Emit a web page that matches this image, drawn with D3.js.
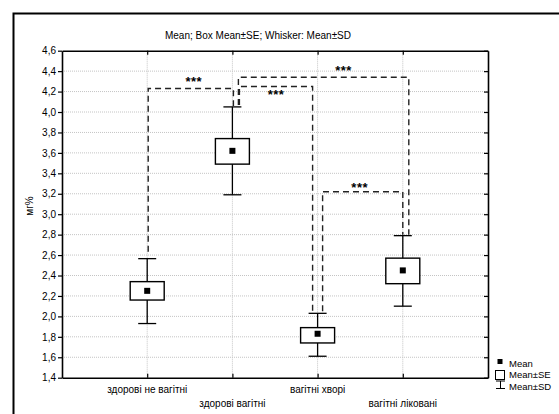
<!DOCTYPE html>
<html>
<head>
<meta charset="utf-8">
<script src="https://cdn.jsdelivr.net/npm/d3@7"></script>
<style>
  body { margin: 0; background: #fff; }
  svg text { font-family: "Liberation Sans", Arial, sans-serif; fill: #000; }
</style>
</head>
<body>
<svg id="chart" width="559" height="414"></svg>
<script>
// groups on the x axis
var groups = ["здорові не вагітні", "здорові вагітні", "вагітні хворі", "вагітні ліковані"]

// Mean, Mean±SE, Mean±SD
var means = [2.25, 3.62, 1.83, 2.45]
var seLow = [2.16, 3.49, 1.74, 2.32]
var seHigh = [2.34, 3.74, 1.89, 2.57]
var sdLow = [1.93, 3.19, 1.61, 2.10]
var sdHigh = [2.565, 4.05, 2.03, 2.79]

var yTicks = [1.4, 1.6, 1.8, 2.0, 2.2, 2.4, 2.6, 2.8, 3.0, 3.2, 3.4, 3.6, 3.8, 4.0, 4.2, 4.4, 4.6]

// significance brackets
var bracketFrom = [0, 1, 1, 2]
var bracketTo = [1, 3, 2, 3]
var bracketLevel = [4.23, 4.34, 4.25, 3.22]
var bracketText = ["***", "***", "***", "***"]

var titleText = "Mean; Box Mean±SE; Whisker: Mean±SD"
var yLabel = "мг%"
var legendText = ["Mean", "Mean±SE", "Mean±SD"]

// layout
var plotLeft = 62, plotRight = 488, plotTop = 50.7, plotBottom = 377.7
var boxHalf = 17, capHalf = 9, markHalf = 3
// x shifts of the bracket feet (left foot, right foot) and label shifts
var footShift = [[1, 1], [6, 6], [7, -5], [5, 0]]
var labelDx = [3, 20, 0, -3]
var labelDy = [-2.5, -2, 13, 0]

var svg = d3.select("#chart")

var x = d3.scalePoint()
  .domain(groups)
  .range([plotLeft, plotRight])
  .padding(1)

var y = d3.scaleLinear()
  .domain([1.4, 4.6])
  .range([plotBottom, plotTop])

var fmt = function(d) { return d3.format(".1f")(d).replace(".", ",") }

// outer frame
svg.append("rect")
  .attr("x", 13.5).attr("y", 13.5)
  .attr("width", 600).attr("height", 500)
  .attr("fill", "none").attr("stroke", "#000").attr("stroke-width", 2)

// title
svg.append("text")
  .attr("x", 258).attr("y", 39)
  .attr("text-anchor", "middle")
  .attr("font-size", "10px")
  .text(titleText)

// grid
var grid = svg.append("g")
grid.selectAll("line.h")
  .data(yTicks.slice(1, -1))
  .enter().append("line")
  .attr("x1", plotLeft).attr("x2", plotRight)
  .attr("y1", function(d) { return y(d) }).attr("y2", function(d) { return y(d) })
  .attr("stroke", "#c4c4c4").attr("stroke-dasharray", "1,1")
grid.selectAll("line.v")
  .data(groups)
  .enter().append("line")
  .attr("x1", function(d) { return x(d) }).attr("x2", function(d) { return x(d) })
  .attr("y1", plotTop).attr("y2", plotBottom)
  .attr("stroke", "#c4c4c4").attr("stroke-dasharray", "1,1")

// axes
var leftAxis = svg.append("g")
  .attr("transform", "translate(" + plotLeft + ",0)")
  .call(d3.axisLeft(y).tickValues(yTicks).tickFormat(fmt).tickSize(4).tickSizeOuter(0).tickPadding(2))
leftAxis.selectAll("text").attr("font-size", "10px").attr("font-family", "Liberation Sans, Arial, sans-serif")

var rightAxis = svg.append("g")
  .attr("transform", "translate(" + plotRight + ",0)")
  .call(d3.axisRight(y).tickValues(yTicks).tickSize(-4).tickSizeOuter(0).tickFormat(""))

var topAxis = svg.append("g")
  .attr("transform", "translate(0," + plotTop + ")")
  .call(d3.axisTop(x).tickSize(-4).tickSizeOuter(0).tickFormat(""))

var bottomAxis = svg.append("g")
  .attr("transform", "translate(0," + plotBottom + ")")
  .call(d3.axisBottom(x).tickSize(-4).tickSizeOuter(0).tickFormat(""))

svg.selectAll(".domain").attr("stroke", "#000").attr("stroke-width", 1.6)
svg.selectAll(".tick line").attr("stroke", "#000").attr("stroke-width", 1.2)

// staggered category labels
svg.append("g").selectAll("text")
  .data(groups)
  .enter().append("text")
  .attr("x", function(d) { return x(d) })
  .attr("y", function(d, i) { return i % 2 == 0 ? 393 : 406.5 })
  .attr("text-anchor", "middle")
  .attr("font-size", "10px")
  .text(function(d) { return d })

// y label
svg.append("text")
  .attr("transform", "translate(33,206) rotate(-90)")
  .attr("text-anchor", "middle")
  .attr("font-size", "10px")
  .text(yLabel)

// brackets
var br = svg.append("g")
for (var i = 0; i < bracketFrom.length; i++) {
  var a = bracketFrom[i], b = bracketTo[i]
  var xa = x(groups[a]) + footShift[i][0]
  var xb = x(groups[b]) + footShift[i][1]
  var yl = y(bracketLevel[i])
  var ya = y(sdHigh[a]) - (a == 0 ? 7 : 2)
  var yb = y(sdHigh[b]) - 1
  br.append("path")
    .attr("d", "M" + xa + "," + ya + "V" + yl + "H" + xb + "V" + yb)
    .attr("fill", "none")
    .attr("stroke", "#222")
    .attr("stroke-width", 1.4)
    .attr("stroke-dasharray", "6,4")
  br.append("text")
    .attr("x", (xa + xb) / 2 + labelDx[i])
    .attr("y", yl + labelDy[i])
    .attr("text-anchor", "middle")
    .attr("font-size", "13px")
    .attr("font-weight", "bold")
    .attr("letter-spacing", "0.5px")
    .text(bracketText[i])
}

// whiskers, boxes, means
var g = svg.append("g")
for (var i = 0; i < groups.length; i++) {
  var cx = x(groups[i])
  g.append("line")
    .attr("x1", cx).attr("x2", cx)
    .attr("y1", y(sdLow[i])).attr("y2", y(sdHigh[i]))
    .attr("stroke", "#000").attr("stroke-width", 1.3)
  g.append("line")
    .attr("x1", cx - capHalf).attr("x2", cx + capHalf)
    .attr("y1", y(sdLow[i])).attr("y2", y(sdLow[i]))
    .attr("stroke", "#000").attr("stroke-width", 1.3)
  g.append("line")
    .attr("x1", cx - capHalf).attr("x2", cx + capHalf)
    .attr("y1", y(sdHigh[i])).attr("y2", y(sdHigh[i]))
    .attr("stroke", "#000").attr("stroke-width", 1.3)
  g.append("rect")
    .attr("x", cx - boxHalf)
    .attr("y", y(seHigh[i]))
    .attr("width", boxHalf * 2)
    .attr("height", y(seLow[i]) - y(seHigh[i]))
    .attr("fill", "#fff").attr("stroke", "#000").attr("stroke-width", 1.4)
  g.append("rect")
    .attr("x", cx - markHalf).attr("y", y(means[i]) - markHalf)
    .attr("width", markHalf * 2).attr("height", markHalf * 2)
    .attr("fill", "#000")
}

// legend
var lg = svg.append("g")
lg.append("rect").attr("x", 497.5).attr("y", 359).attr("width", 5).attr("height", 5).attr("fill", "#000")
lg.append("rect").attr("x", 495.5).attr("y", 370.5).attr("width", 9).attr("height", 9)
  .attr("fill", "#fff").attr("stroke", "#000").attr("stroke-width", 1)
lg.append("path").attr("d", "M496,381H505M500.5,381V388.5M496,388.5H505")
  .attr("fill", "none").attr("stroke", "#000").attr("stroke-width", 1)
lg.selectAll("text")
  .data(legendText)
  .enter().append("text")
  .attr("x", 509)
  .attr("y", function(d, i) { return 366.5 + i * 11.5 })
  .attr("font-size", "9.5px")
  .text(function(d) { return d })
</script>
</body>
</html>
